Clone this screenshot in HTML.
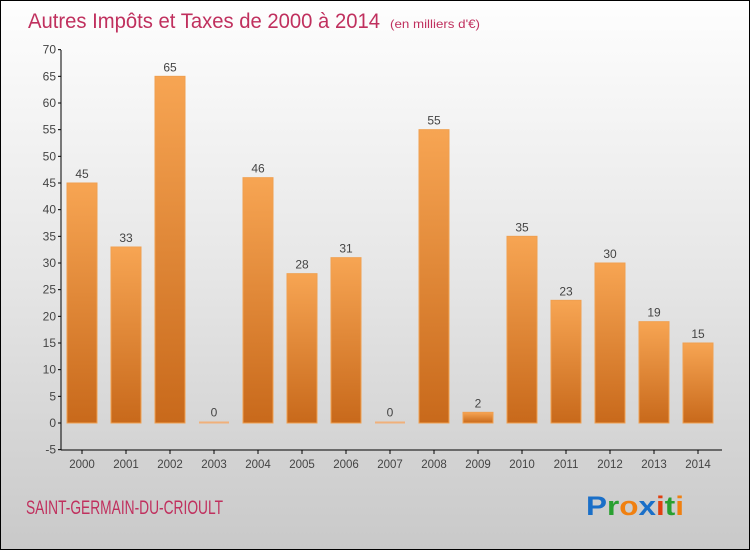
<!DOCTYPE html>
<html><head><meta charset="utf-8"><style>
html,body{margin:0;padding:0}
body{width:750px;height:550px;overflow:hidden;font-family:"Liberation Sans",sans-serif}
#wrap{position:relative;width:748px;height:548px;border:1px solid #000;background:linear-gradient(#fefefe,#e6e6e6 50%,#c9c9c9)}
</style></head><body>
<div id="wrap">
<svg id="chart" width="748" height="548">
<defs><linearGradient id="bg" x1="0" y1="0" x2="0" y2="1"><stop offset="0" stop-color="#f7a553"/><stop offset="1" stop-color="#c8691b"/></linearGradient></defs>
<text x="27" y="27" font-size="21" fill="#c0305e" textLength="352" lengthAdjust="spacingAndGlyphs">Autres Impôts et Taxes de 2000 à 2014</text>
<text x="389" y="27" font-size="12" fill="#c0305e" textLength="90" lengthAdjust="spacingAndGlyphs">(en milliers d'€)</text>
<g id="axes"></g><g id="bars"></g>
<text x="25" y="513" font-size="19" fill="#c0305e" textLength="197" lengthAdjust="spacingAndGlyphs">SAINT-GERMAIN-DU-CRIOULT</text>
<text x="585" y="514" font-size="27" font-weight="bold" textLength="98" lengthAdjust="spacingAndGlyphs"><tspan fill="#1a6fc8">P</tspan><tspan fill="#28a030">r</tspan><tspan fill="#f08010">o</tspan><tspan fill="#1a6fc8">x</tspan><tspan fill="#e04010">i</tspan><tspan fill="#28a030">t</tspan><tspan fill="#f08010">i</tspan></text>
</svg></div>
<script>
const years=["2000","2001","2002","2003","2004","2005","2006","2007","2008","2009","2010","2011","2012","2013","2014"];
const values=[45,33,65,0,46,28,31,0,55,2,35,23,30,19,15];
const yTicks=[-5,0,5,10,15,20,25,30,35,40,45,50,55,60,65,70];
const NS="http://www.w3.org/2000/svg";
const y=v=>422-(v)*(400/75);
const x=i=>81+i*44;
function mk(t,a,p){const e=document.createElementNS(NS,t);for(const k in a)e.setAttribute(k,a[k]);p.appendChild(e);return e;}
const ax=document.getElementById('axes'),bars=document.getElementById('bars');
let l=mk('line',{x1:60,y1:49,x2:60,y2:449,stroke:'#000'},ax);


l=mk('line',{x1:60,y1:449,x2:721,y2:449,stroke:'#000'},ax);


yTicks.forEach(v=>{
 mk('line',{x1:57,x2:60,y1:y(v),y2:y(v),stroke:'#000'},ax);
 const t=mk('text',{x:55,y:y(v)+4,'text-anchor':'end','font-size':12,fill:'#444'},ax);t.textContent=v;
 
 
});
years.forEach((yr,i)=>{
 mk('line',{x1:x(i),x2:x(i),y1:449,y2:453,stroke:'#000'},ax);
 const t=mk('text',{x:x(i),y:467,'text-anchor':'middle','font-size':11.5,fill:'#444'},ax);t.textContent=yr;
 
 
 const v=values[i];const top=v>0?y(v):y(0)-1.5;const h=v>0?y(0)-y(v):2;
 const r=mk('rect',{x:x(i)-15,y:top,width:30,height:h,fill:v>0?'url(#bg)':'#f0b07a',stroke:'#f0a050','stroke-width':v>0?1:0},bars);
 
 
 const lb=mk('text',{x:x(i),y:top-5,'text-anchor':'middle','font-size':12,fill:'#444'},bars);lb.textContent=v;
 
 
});
</script>
</body></html>
